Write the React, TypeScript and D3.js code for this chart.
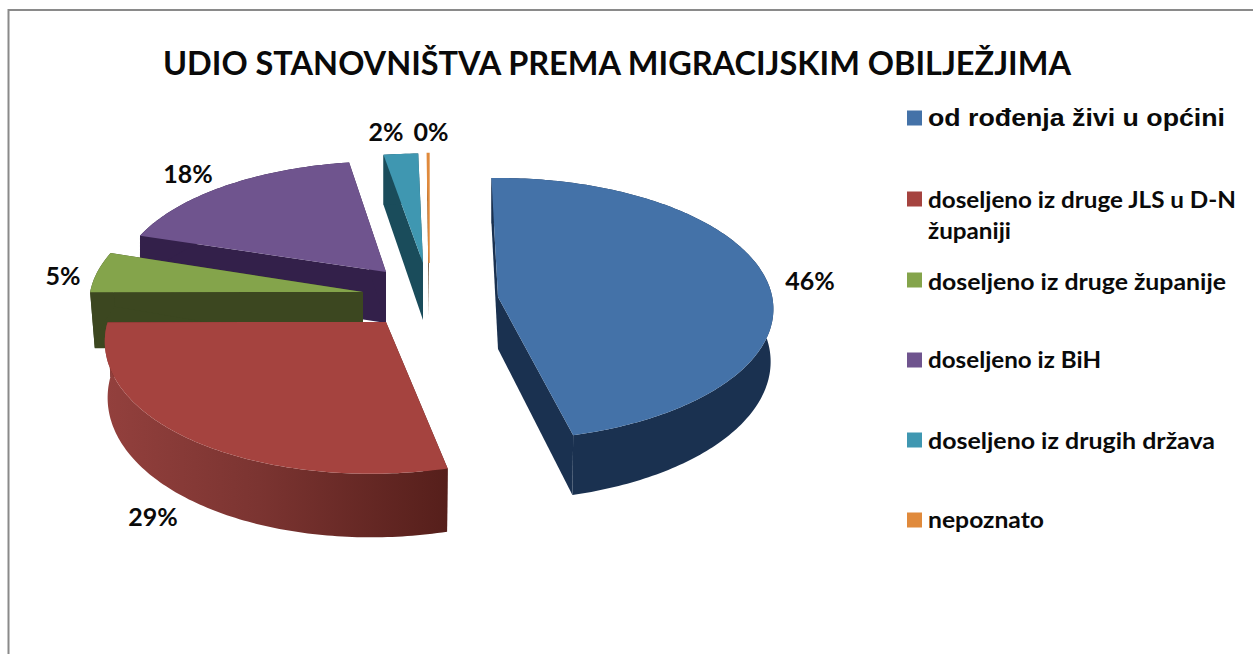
import React from "react";
import * as d3 from "d3";

const categories = [
  "od rođenja živi u općini",
  "doseljeno iz druge JLS u D-N županiji",
  "doseljeno iz druge županije",
  "doseljeno iz BiH",
  "doseljeno iz drugih država",
  "nepoznato",
];
const values = [46.4, 29.0, 5.0, 17.6, 1.9, 0.1];
const title = "UDIO STANOVNIŠTVA PREMA MIGRACIJSKIM OBILJEŽJIMA";
const topColors = ["#4472a8", "#a5433f", "#84a44b", "#6f548e", "#3f97b1", "#e08a3c"];
const wallColors = ["#1a3150", "url(#redWall)", "#3c4720", "#33204a", "#1a4c5b", "#5c3a1c"];

// Layout of each exploded slice: apex, scale, shear, extrusion depth, bottom-rim scale
const slices = [
  { cx: 498, cy: 297, sx: 0.99, sy: 1, k: 0, d: 52, b: 0.99 },
  { cx: 386, cy: 322, sx: 1.005, sy: 1.06, k: -0.1, d: 55, b: 0.99 },
  { cx: 363, cy: 292, sx: 0.985, sy: 1, k: 0, d: 56, b: 0.983 },
  { cx: 386, cy: 272, sx: 0.96, sy: 0.93, k: 0, d: 51, b: 1 },
  { cx: 423, cy: 263, sx: 1.15, sy: 0.92, k: -0.043, d: 57, b: 1 },
  { cx: 429, cy: 263, sx: 1, sy: 0.92, k: -0.06, d: 54, b: 1 },
];
const drawOrder = [3, 2, 4, 5, 1, 0];
const labelPos = [
  [810, 290], [153, 526], [63, 285], [188, 183], [386, 141], [431, 141],
];
const legendRows: { y: number; lines: [string, number, number][] }[] = [
  { y: 118, lines: [["od rođenja živi u općini", 126, 297]] },
  { y: 199, lines: [["doseljeno iz druge JLS u D-N", 208, 308], ["županiji", 239, 83]] },
  { y: 280, lines: [["doseljeno iz druge županije", 290, 298]] },
  { y: 360, lines: [["doseljeno iz BiH", 368, 173]] },
  { y: 440, lines: [["doseljeno iz drugih država", 449, 287]] },
  { y: 520, lines: [["nepoznato", 528, 116]] },
];

const R = 277;
const Rv = 130;
const P = 0.092;

type S = (typeof slices)[number];
function project(s: S, a: number, r: number, bottom: boolean): [number, number] {
  const u = Math.sin(a) * r;
  const v = Math.cos(a) * r;
  const p = 1 / (1 + P * v);
  const b = bottom ? s.b : 1;
  const dy = -Rv * v * p * s.sy;
  const dx = (R * u * p * s.sx + s.k * dy) * b;
  const depth = bottom ? s.d * Math.pow(p, 1.5) : 0;
  return [s.cx + dx, s.cy + dy + depth];
}

export default function App() {
  const pie = d3
    .pie<number>()
    .sort(null)
    .startAngle((-1.5 * Math.PI) / 180)
    .endAngle((358.5 * Math.PI) / 180);
  const arcs = pie(values);
  const line = d3.line().curve(d3.curveLinear);

  const arcPts = (s: S, a0: number, a1: number, bottom: boolean) => {
    const n = Math.max(2, Math.ceil((a1 - a0) * 60));
    return d3.range(n + 1).map((i) => project(s, a0 + ((a1 - a0) * i) / n, 1, bottom));
  };

  return (
    <svg
      width={1253}
      height={654}
      style={{ position: "absolute", left: 0, top: 0, background: "#fff" }}
      fontFamily="Lato, 'Open Sans', sans-serif"
    >
      <defs>
        <linearGradient id="redWall" gradientUnits="userSpaceOnUse" x1={105} x2={447} y1={0} y2={0}>
          <stop offset="0" stopColor="#93403d" />
          <stop offset="0.45" stopColor="#7b3431" />
          <stop offset="1" stopColor="#561f1b" />
        </linearGradient>
      </defs>
      <path d="M8.5 654V10H1253" fill="none" stroke="#8a8a8a" strokeWidth={2} />
      <text
        x={163}
        y={75}
        fontSize={32}
        fontWeight={700}
        fill="#0a0a0a"
        textLength={908}
        lengthAdjust="spacingAndGlyphs"
      >
        {title}
      </text>

      {drawOrder.map((i) => {
        const s = slices[i];
        const { startAngle: a0, endAngle: a1 } = arcs[i];
        const top = arcPts(s, a0, a1, false);
        const bot = arcPts(s, a0, a1, true);
        const apexT: [number, number] = [s.cx, s.cy];
        const apexB: [number, number] = [s.cx, s.cy + s.d];
        const wall = [...top, ...bot.slice().reverse()];
        const face0 = [apexT, top[0], bot[0], apexB];
        const face1 = [apexT, top[top.length - 1], bot[bot.length - 1], apexB];
        const surface = [apexT, ...top];
        return (
          <g key={categories[i]}>
            <path d={line(face0 as any)! + "Z"} fill={i === 1 ? "#561f1b" : wallColors[i]} />
            <path d={line(face1 as any)! + "Z"} fill={i === 1 ? "#561f1b" : wallColors[i]} />
            <path d={line(wall as any)! + "Z"} fill={wallColors[i]} />
            <path
              d={line(surface as any)! + "Z"}
              fill={topColors[i]}
              stroke={i === 5 ? topColors[i] : "none"}
              strokeWidth={i === 5 ? 1.5 : 0}
            />
          </g>
        );
      })}

      {values.map((v, i) => (
        <text
          key={categories[i]}
          x={labelPos[i][0]}
          y={labelPos[i][1]}
          textAnchor="middle"
          fontSize={25}
          fontWeight={700}
          fill="#0a0a0a"
        >
          {d3.format(".0f")(v)}%
        </text>
      ))}

      {legendRows.map((row, i) => (
        <g key={i}>
          <rect x={907} y={row.y - 7.5} width={15} height={15} fill={topColors[i]} />
          {row.lines.map(([t, y, w]) => (
            <text
              key={t}
              x={928}
              y={y}
              fontSize={i === 0 ? 24 : 23}
              fontWeight={700}
              fontFamily={i === 0 ? "'Liberation Sans', sans-serif" : undefined}
              fill="#0a0a0a"
              textLength={w}
              lengthAdjust="spacingAndGlyphs"
            >
              {t}
            </text>
          ))}
        </g>
      ))}
    </svg>
  );
}
